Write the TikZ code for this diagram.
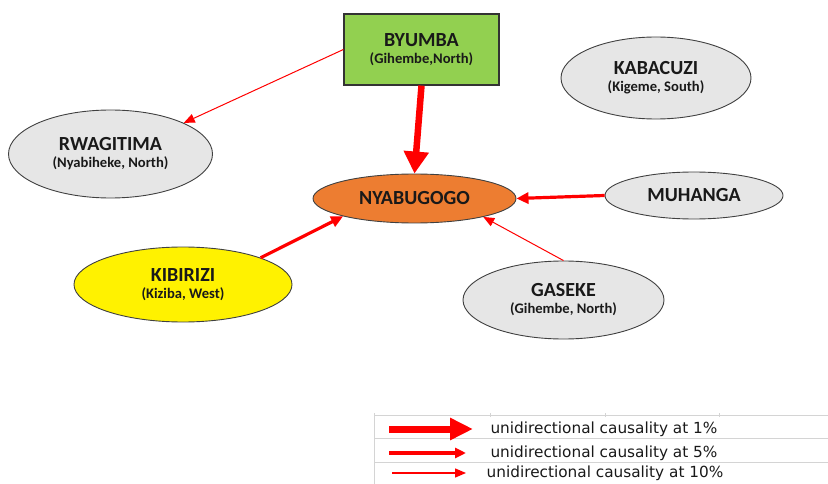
\documentclass[tikz,border=0pt]{standalone}
\usepackage{fontspec}
\usepackage{tikz}
\usetikzlibrary{shapes,arrows.meta}
\newfontfamily\carlito{Carlito}
\newfontfamily\dejavu{DejaVu Sans}
\newcommand{\regiontext}[1]{{\fontsize{14.6}{17}\selectfont #1}}
\definecolor{sitegray}{HTML}{E6E6E6}
\definecolor{hubgreen}{HTML}{92D050}
\definecolor{huborange}{HTML}{ED7D31}

\begin{document}
\begin{tikzpicture}[x=1pt, y=-1pt, ->,
        every ellipse node/.append style={draw=black!75, line width=0.9pt}]
      \tikzstyle{site} = [ellipse, fill=sitegray, inner sep=0pt, align=center,
        font=\carlito\bfseries\fontsize{20}{17}\selectfont, text=black!90]
      \tikzstyle{onepct} = [draw=red, line width=6.5pt, -{Triangle[length=22pt,width=24pt]}]
      \tikzstyle{fivepct} = [draw=red, line width=3.2pt, -{Triangle[length=12pt,width=11pt]}]
      \tikzstyle{tenpct} = [draw=red, line width=1pt, -{Triangle[length=11pt,width=9pt]}]
      \tikzstyle{key} = [font=\dejavu\fontsize{15.3}{18}\selectfont, text=black!90]
      \useasboundingbox (0,0) rectangle (828,484);
      \node (BYUMBA) [rectangle, draw=black!80, line width=1.2pt, fill=hubgreen,
        minimum width=155pt, minimum height=71pt, align=center,
        font=\carlito\bfseries\fontsize{20}{17}\selectfont, text=black!90]
        at (421.5,49.5) {BYUMBA\\\regiontext{(Gihembe,North)}};
      \node (RWAGITIMA) [site, minimum width=204pt, minimum height=88pt]
        at (110.5,154) {RWAGITIMA\\\regiontext{(Nyabiheke, North)}};
      \node (KABACUZI) [site, minimum width=190pt, minimum height=82pt]
        at (656,78) {KABACUZI\\\regiontext{(Kigeme, South)}};
      \node (NYABUGOGO) [site, fill=huborange, minimum width=203pt, minimum height=49pt]
        at (414.5,198.5) {NYABUGOGO};
      \node (MUHANGA) [site, minimum width=178pt, minimum height=47pt]
        at (694,195.5) {MUHANGA};
      \node (KIBIRIZI) [site, fill=yellow, minimum width=218pt, minimum height=75pt]
        at (183,284.5) {KIBIRIZI\\\regiontext{(Kiziba, West)}};
      \node (GASEKE) [site, minimum width=201pt, minimum height=78pt]
        at (563.5,300) {GASEKE\\\regiontext{(Gihembe, North)}};
      \draw[onepct] (BYUMBA.south) -- (NYABUGOGO.north);
      \draw[tenpct] (BYUMBA.west) -- (RWAGITIMA.23);
      \draw[fivepct] (MUHANGA.west) -- (NYABUGOGO.east);
      \draw[fivepct] (KIBIRIZI.19) -- (NYABUGOGO.194);
      \draw[tenpct] (GASEKE.north) -- (NYABUGOGO.-15);
      \draw[-, black!17, line width=0.8pt] (374,415) -- (828,415) (374,438) -- (828,438)
        (374,462) -- (828,462) (374,413) -- (374,484)
        (490,413) -- (490,417) (605,413) -- (605,417) (719,413) -- (719,417);
      \coordinate (keyOneA) at (389,429);
      \coordinate (keyOneB) at (473,429);
      \coordinate (keyFiveA) at (389,453);
      \coordinate (keyFiveB) at (466,453);
      \coordinate (keyTenA) at (392,473);
      \coordinate (keyTenB) at (466,473);
      \draw[onepct, line width=7pt, -{Triangle[length=23pt,width=21pt]}] (keyOneA) -- (keyOneB);
      \draw[fivepct, line width=3.5pt, -{Triangle[length=11pt,width=10pt]}] (keyFiveA) -- (keyFiveB);
      \draw[tenpct, line width=1.3pt] (keyTenA) -- (keyTenB);
      \node (keyOne) [key] at (604,429) {unidirectional causality at 1\%};
      \node (keyFive) [key] at (604,453) {unidirectional causality at 5\%};
      \node (keyTen) [key] at (605,473) {unidirectional causality at 10\%};
    \end{tikzpicture}
\end{document}
